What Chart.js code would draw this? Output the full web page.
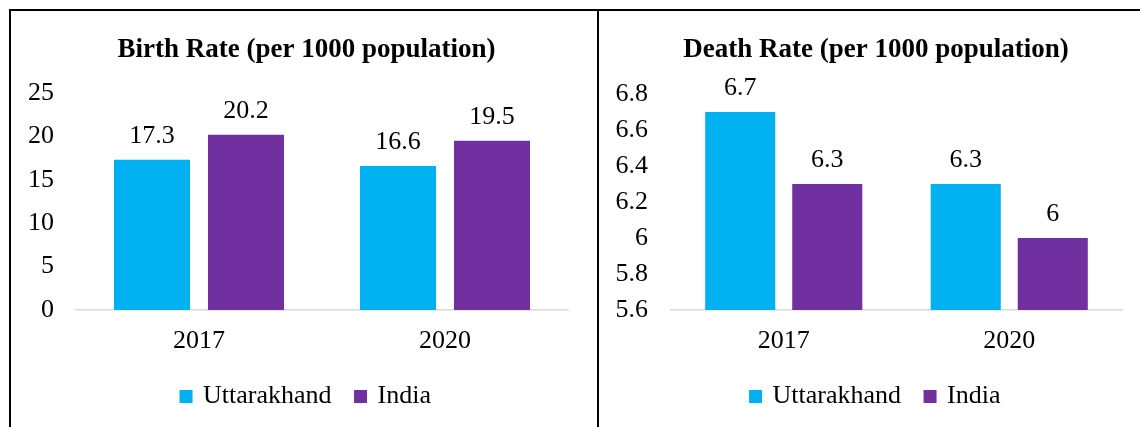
<!DOCTYPE html>
<html>
<head>
<meta charset="utf-8">
<script src="https://cdn.jsdelivr.net/npm/chart.js@4"></script>
<style>
  html, body { margin: 0; padding: 0; background: #fff; }
  body { width: 1140px; height: 427px; position: relative; overflow: hidden; }
  .line { position: absolute; background: #000; }
  .box { position: absolute; top: 12px; height: 415px; }
</style>
</head>
<body>
<div class="line" style="left:9px; top:9px; width:1131px; height:2px;"></div>
<div class="line" style="left:9px; top:9px; width:2px; height:418px;"></div>
<div class="line" style="left:597px; top:9px; width:2px; height:418px;"></div>
<div class="box" style="left:12px; width:585px;"><canvas id="birthChart"></canvas></div>
<div class="box" style="left:600px; width:540px;"><canvas id="deathChart"></canvas></div>
<script>
const years = ['2017', '2020'];
const seriesNames = ['Uttarakhand', 'India'];
const birthUttarakhand = [17.3, 16.6];
const birthIndia = [20.2, 19.5];
const deathUttarakhand = [6.7, 6.3];
const deathIndia = [6.3, 6];
const birthTicks = { min: 0, max: 25, step: 5 };
const deathTicks = { min: 5.6, max: 6.8, step: 0.2 };

const cyan = '#00B0F0';
const purple = '#7030A0';
const serif = "'Liberation Serif', 'Times New Roman', serif";

// values above bars
const valueLabels = {
    id: 'valueLabels',
    afterDatasetsDraw(chart) {
        const ctx = chart.ctx;
        ctx.save();
        ctx.font = '26px ' + serif;
        ctx.fillStyle = '#000';
        ctx.textAlign = 'center';
        ctx.textBaseline = 'alphabetic';
        chart.data.datasets.forEach((ds, i) => {
            chart.getDatasetMeta(i).data.forEach((bar, j) => {
                ctx.fillText(String(ds.data[j]), bar.x, bar.y - 17);
            });
        });
        ctx.restore();
    }
};

function makeChart(id, title, uData, iData, ticks, opts) {
    const ctx = document.getElementById(id).getContext('2d');
    return new Chart(ctx, {
        type: 'bar',
        data: {
            labels: years,
            datasets: [{
                label: seriesNames[0],
                data: uData,
                backgroundColor: cyan,
                categoryPercentage: opts.cat,
                barPercentage: opts.bar
            }, {
                label: seriesNames[1],
                data: iData,
                backgroundColor: purple,
                categoryPercentage: opts.cat,
                barPercentage: opts.bar
            }]
        },
        options: {
            responsive: true,
            maintainAspectRatio: false,
            animation: false,
            layout: { padding: { left: opts.padLeft, right: 0, top: 0, bottom: 7.5 } },
            plugins: {
                title: {
                    display: true,
                    text: title,
                    color: '#000',
                    font: { family: serif, size: 27, weight: 'bold' },
                    padding: { top: 21.4, bottom: opts.titleBottom }
                },
                legend: {
                    position: 'bottom',
                    labels: {
                        color: '#000',
                        font: { family: serif, size: 26 },
                        usePointStyle: true,
                        pointStyle: 'rect',
                        boxWidth: 8,
                        boxHeight: 13,
                        padding: 25
                    }
                },
                tooltip: { enabled: false }
            },
            scales: {
                x: {
                    grid: { display: false, drawTicks: false },
                    border: { display: true, color: '#D9D9D9', width: 1.5 },
                    ticks: { color: '#000', font: { family: serif, size: 26 }, padding: 16 },
                    afterFit: s => { s.height = 48.5; }
                },
                y: {
                    min: ticks.min,
                    max: ticks.max,
                    grid: { display: false, drawTicks: false },
                    border: { display: false },
                    ticks: {
                        stepSize: ticks.step,
                        color: '#000',
                        font: { family: serif, size: 26 },
                        padding: opts.tickPad,
                        callback: v => String(+v.toFixed(1))
                    },
                    afterFit: s => { s.width = opts.yWidth; }
                },
                yr: {
                    position: 'right',
                    display: true,
                    grid: { display: false, drawTicks: false },
                    border: { display: false },
                    ticks: { display: false },
                    afterFit: s => { s.width = opts.rightGap; }
                }
            }
        },
        plugins: [valueLabels]
    });
}

makeChart('birthChart', 'Birth Rate (per 1000 population)', birthUttarakhand, birthIndia, birthTicks,
    { cat: 0.764, bar: 0.809, padLeft: 4, yWidth: 60, rightGap: 29, tickPad: 22, titleBottom: 27.2 });
makeChart('deathChart', 'Death Rate (per 1000 population)', deathUttarakhand, deathIndia, deathTicks,
    { cat: 0.772, bar: 0.805, padLeft: 12, yWidth: 59, rightGap: 18, tickPad: 23, titleBottom: 28.2 });
</script>
</body>
</html>
